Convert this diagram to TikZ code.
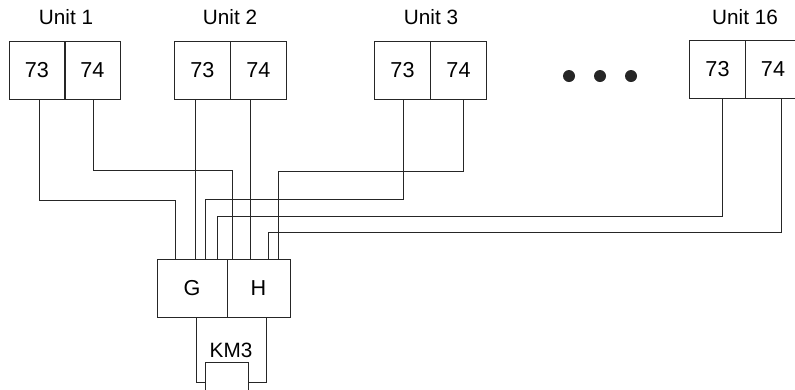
\documentclass[tikz,border=0pt]{standalone}
\usepackage{fontspec}
\setmainfont{Liberation Sans}
\usetikzlibrary{calc}

\tikzset{
	cell/.style={draw=black!85,line width=0.55pt,minimum width=1.12cm,minimum height=1.16cm,inner sep=0pt,font=\fontsize{12.3}{14}\selectfont},
	title/.style={inner sep=0pt,font=\fontsize{11.8}{14}\selectfont},
	wire/.style={draw=black!85,line width=0.55pt},
	dotmark/.style={circle,fill=black!85,minimum size=0.24cm,inner sep=0pt}
}

\begin{document}
\begin{tikzpicture}
	\clip (0,0) rectangle (15.9,-7.78);

	\node[title] (title1) at (1.32,-0.35){Unit 1};
	\node[title] (title2) at (4.60,-0.35){Unit 2};
	\node[title] (title3) at (8.62,-0.35){Unit 3};
	\node[title] (title16) at (14.90,-0.35){Unit 16};

	\node[cell] (u1a) at (0.74,-1.40){73};
	\node[cell] (u1b) at (1.85,-1.40){74};
	\node[cell] (u2a) at (4.05,-1.40){73};
	\node[cell] (u2b) at (5.17,-1.40){74};
	\node[cell] (u3a) at (8.05,-1.40){73};
	\node[cell] (u3b) at (9.17,-1.40){74};
	\node[cell] (u16a) at (14.35,-1.38){73};
	\node[cell] (u16b) at (15.46,-1.38){74};

	\node[dotmark] (dot1) at (11.38,-1.52){};
	\node[dotmark] (dot2) at (12.00,-1.52){};
	\node[dotmark] (dot3) at (12.62,-1.52){};

	\node[cell,minimum width=1.40cm] (g) at (3.84,-5.76){G};
	\node[cell,minimum width=1.26cm] (h) at (5.17,-5.76){H};
	\node[cell,minimum width=0.86cm,minimum height=0.80cm] (km3) at (4.53,-7.64){};
	\node[title] (km3text) at (4.62,-7.00){KM3};

	\draw[wire] ([xshift=0.05cm]u1a.south) -- ++(0,-2.02) -| ([xshift=-0.34cm]g.north);
	\draw[wire] ([xshift=0.02cm]u1b.south) -- ++(0,-1.42) -| ([xshift=-0.53cm]h.north);
	\draw[wire] ([xshift=-0.15cm]u2a.south) -- ([xshift=-0.15cm]u2a.south |- g.north);
	\draw[wire] ([xshift=-0.17cm]u2b.south) -- ([xshift=-0.17cm]u2b.south |- h.north);
	\draw[wire] ([xshift=0.01cm]u3a.south) -- ++(0,-2.00) -| ([xshift=0.26cm]g.north);
	\draw[wire] ([xshift=0.09cm]u3b.south) -- ++(0,-1.44) -| ([xshift=0.39cm]h.north);
	\draw[wire] ([xshift=0.10cm]u16a.south) -- ++(0,-2.36) -| ([xshift=0.51cm]g.north);
	\draw[wire] ([xshift=0.17cm]u16b.south) -- ++(0,-2.68) -| ([xshift=0.19cm]h.north);

	\draw[wire] ([xshift=0.08cm]g.south) |- (km3.west);
	\draw[wire] ([xshift=0.15cm]h.south) |- (km3.east);
\end{tikzpicture}
\end{document}
